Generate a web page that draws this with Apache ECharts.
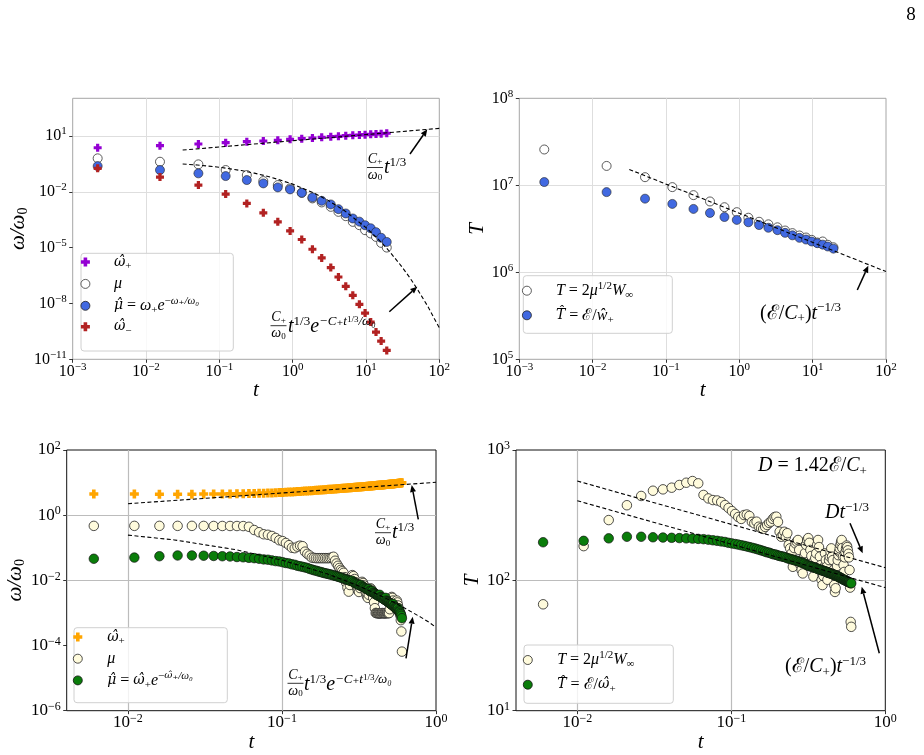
<!DOCTYPE html>
<html><head><meta charset="utf-8">
<script src="https://cdn.jsdelivr.net/npm/echarts@6/dist/echarts.min.js"></script>
<style>html,body{margin:0;padding:0;background:#fff}#c{width:924px;height:755px}</style>
</head><body><div id="c"></div>
<script>
// ---------------- DATA ----------------
// top row: time samples
const tTop = [0.00219,0.0155,0.0518,0.122,0.237,0.398,0.627,0.923,1.33,1.86,2.49,3.31,4.21,5.30,6.61,8.13,9.72,11.6,13.7,16.1,19.2];
// panel 1 (omega / omega0)
const p1OmegaPlus = [2.34,3.0,3.7,4.35,4.93,5.38,5.87,6.64,7.16,7.8,8.5,9.17,9.6,10.4,10.9,11.3,11.8,12.3,12.8,13.3,14.0];
const p1Mu = [0.63,0.413,0.299,0.148,0.0794,0.0378,0.023,0.0153,0.00885,0.00442,0.00269,0.00156,8.39e-4,4.92e-4,2.43e-4,1.61e-4,8.67e-5,5.75e-5,3.78e-5,1.8e-5,1.01e-5];
const p1MuHat = [0.242,0.148,0.098,0.0702,0.0428,0.0284,0.0173,0.0135,0.00885,0.005,0.00328,0.0021,0.00117,6.87e-4,3.7e-4,2.5e-4,1.6e-4,1.1e-4,6.8e-5,3.4e-5,2.03e-5];
const p1OmegaMinus = [0.182,0.0619,0.023,7.53e-3,2.38e-3,7.41e-4,2.43e-4,7.94e-5,2.74e-5,8.22e-6,2.79e-6,8.49e-7,2.65e-7,8.36e-8,2.74e-8,8.97e-9,3.05e-9,1.0e-9,2.89e-10,9.5e-11,2.99e-11];
const p1FitUpT = [0.0316,100];
const p1FitUpV = [1.75,25.7];
const p1FitLowT = [0.0316,0.05,0.1,0.2,0.3,0.5,1,2,3,5,10,15,20,30,40,50,70,85,100];
const p1FitLowV = [0.313,0.276,0.209,0.139,0.101,0.062,0.026,0.00824,0.00358,0.00102,1.2e-4,2.63e-5,7.7e-6,1.09e-6,2.3e-7,6.0e-8,6.8e-9,1.6e-9,5.0e-10];
// panel 2 (T)
const p2T = [2.58e7,1.67e7,1.24e7,9.53e6,7.71e6,6.52e6,5.6e6,4.91e6,4.24e6,3.81e6,3.56e6,3.29e6,3.02e6,2.82e6,2.65e6,2.51e6,2.36e6,2.2e6,2.26e6,2.07e6,1.94e6];
const p2That = [1.09e7,8.35e6,7.02e6,6.11e6,5.35e6,4.81e6,4.32e6,4.0e6,3.76e6,3.49e6,3.25e6,3.05e6,2.84e6,2.66e6,2.49e6,2.38e6,2.26e6,2.16e6,2.08e6,1.98e6,1.87e6];
const p2FitT = [0.0316,100];
const p2FitV = [1.52e7,1.02e6];
// bottom row: time samples
const tBot = [0.006,0.011,0.016,0.021,0.026,0.031,0.036,0.041,0.046,0.051,
0.056,0.061,0.066,0.071,0.076,0.081,0.086,0.091,0.096,0.101,
0.106,0.111,0.116,0.121,0.126,0.131,0.136,0.141,0.146,0.151,
0.156,0.161,0.166,0.171,0.176,0.181,0.186,0.191,0.196,0.201,
0.206,0.211,0.216,0.221,0.226,0.231,0.236,0.241,0.246,0.251,
0.256,0.261,0.266,0.271,0.276,0.281,0.286,0.291,0.296,0.301,
0.306,0.311,0.316,0.321,0.326,0.331,0.336,0.341,0.346,0.351,
0.356,0.361,0.366,0.371,0.376,0.381,0.386,0.391,0.396,0.401,
0.406,0.411,0.416,0.421,0.426,0.431,0.436,0.441,0.446,0.451,
0.456,0.461,0.466,0.471,0.476,0.481,0.486,0.491,0.496,0.501,
0.506,0.511,0.516,0.521,0.526,0.531,0.536,0.541,0.546,0.551,
0.556,0.561,0.566,0.571,0.576,0.581,0.586,0.591,0.596,0.601];
// panel 3 (omega / omega0)
const p3OmegaPlus = [4.45,4.45,4.40,4.40,4.40,4.45,4.45,4.48,4.50,4.53,
4.56,4.60,4.63,4.67,4.71,4.76,4.80,4.86,4.93,5.00,
5.06,5.12,5.18,5.24,5.30,5.36,5.42,5.48,5.54,5.60,
5.66,5.72,5.78,5.84,5.90,5.96,6.02,6.08,6.14,6.20,
6.25,6.30,6.35,6.40,6.45,6.50,6.55,6.60,6.65,6.70,
6.75,6.80,6.85,6.90,6.95,7.00,7.05,7.10,7.15,7.20,
7.24,7.29,7.33,7.38,7.42,7.47,7.51,7.56,7.60,7.65,
7.69,7.74,7.78,7.83,7.87,7.92,7.96,8.01,8.05,8.10,
8.14,8.18,8.22,8.26,8.30,8.34,8.38,8.42,8.46,8.50,
8.54,8.58,8.62,8.66,8.70,8.74,8.78,8.82,8.86,8.90,
8.94,8.99,9.03,9.08,9.12,9.17,9.21,9.26,9.30,9.35,
9.39,9.44,9.48,9.53,9.57,9.62,9.66,9.71,9.75,9.80];
const p3Mu = [0.47,0.47,0.47,0.47,0.47,0.468,0.466,0.466,0.466,0.465,0.463,
0.44,0.35,0.30,0.26,0.25,0.23,0.20,0.17,0.16,
0.14,0.12,0.10,0.097,0.108,0.116,0.112,0.076,0.065,0.058,
0.050,0.049,0.048,0.048,0.048,0.048,0.048,0.048,0.048,0.048,0.049,0.050,0.053,
0.040,0.033,0.028,0.024,0.021,0.019,0.017,
0.0125,0.0085,0.006,0.0045,0.0072,0.0105,0.0145,0.0135,0.011,0.0088,
0.0065,0.0050,0.0044,0.0058,0.0078,0.0090,0.0083,0.0070,0.0056,0.0042,
0.0033,0.0029,0.0036,0.0047,0.0057,0.0052,0.0040,0.0029,0.0021,0.0014,
0.00100,0.00099,0.00098,0.00098,0.00097,0.00097,0.00098,0.00098,0.00099,0.00099,0.00098,0.00098,0.00097,0.00098,0.00099,0.0010,0.00099,0.00098,0.00099,
0.0013,0.0019,0.0026,0.0031,0.0029,0.0024,0.0020,0.0017,0.0015,0.0017,0.0021,0.0024,0.0021,0.0017,0.0014,0.0012,0.0010,0.00085,0.00060,0.00027,0.000065];
const p3MuHat = [0.046,0.050,0.055,0.058,0.058,0.057,0.056,0.055,0.054,0.052,
0.051,0.049,0.048,0.046,0.044,0.043,0.041,0.039,0.038,0.036,
0.034,0.033,0.031,0.030,0.028,0.027,0.026,0.025,0.024,0.0225,
0.0215,0.0205,0.0198,0.0190,0.0183,0.0176,0.0170,0.0165,0.0160,0.0156,
0.0152,0.0147,0.0142,0.0138,0.0134,0.0130,0.0126,0.0122,0.0118,0.0114,
0.0110,0.0107,0.0104,0.0101,0.0098,0.0095,0.0097,0.0089,0.0084,0.0081,
0.0078,0.0075,0.0072,0.0069,0.0072,0.0065,0.0063,0.0061,0.0058,0.0056,
0.0054,0.0052,0.0054,0.0048,0.0047,0.0045,0.0047,0.0042,0.0041,0.0039,
0.0038,0.0036,0.0035,0.0034,0.0033,0.0036,0.0031,0.0030,0.0029,0.0028,
0.0027,0.0026,0.0025,0.0029,0.0024,0.0023,0.0022,0.0021,0.0021,0.0020,
0.0019,0.0019,0.0018,0.0017,0.0019,0.0016,0.0016,0.0015,0.0014,0.0014,
0.0013,0.0013,0.0014,0.0012,0.0011,0.0011,0.0010,0.00092,0.00082,0.00069];
const p3FitUpT = [0.01,1];
const p3FitUpV = [2.25,10.2];
const p3FitLowT = [0.01,0.02,0.05,0.1,0.2,0.3,0.4,0.5,0.6,0.7,0.8,0.9,1];
const p3FitLowV = [0.244,0.174,0.0875,0.0417,0.0154,0.00737,0.00411,0.00246,0.00158,0.00105,7.3e-4,5.2e-4,3.6e-4];
// panel 4 (T)
const p4T = [65.5,183,290,377,444,487,499,514,539,561,578,555,
452,425,413,410,399,378,359,340,323,306,296,
317,320,312,281,274,282,258,
252,248,257,266,276,282,296,306,308,281,
236,216,223,236,216,230,187,176,161,127,
177,192,198,204,171,131,120,113,152,162,
187,204,211,194,171,154,136,107,127,148,
161,187,204,180,152,131,101,92,108,127,
161,143,127,101,114,143,152,166,176,152,
143,120,92,81.5,87,110,129,143,156,166,
176,187,197,204,177,152,131,116,150,165,
175,185,180,170,160,150,120,88,48,44];
const p4That = [196,201,210,216,216,214,213,212,211,210,
209,208,207,205,203,201,199,197,194,192,
190,188,186,184,182,180,178,176,174,172,
170,168,166,164,163,161,159,158,157,155,
154,153,152,151,150,148,147,146,145,144,
143,142,141,140,139,138,137,136,135,134,
132,131,130,129,128,128,127,126,125,125,
124,123,122,122,121,120,120,119,118,118,
117,117,116,115,115,114,114,113,112,112,
111,111,110,110,109,108,108,107,107,106,
105,105,104,103,103,102,101,101,100,100,
99,99,98,98,97,97,96,96,95,95];
const p4FitUpT = [0.01,1];
const p4FitUpV = [578,125];
const p4FitLowT = [0.01,1];
const p4FitLowV = [408,88];
// tick values
const ticksTopX = [1e-3,1e-2,1e-1,1,10,100];
const ticksP1Y = [1e-11,1e-8,1e-5,1e-2,10];
const ticksP2Y = [1e5,1e6,1e7,1e8];
const ticksBotX = [0.01,0.1,1];
const ticksP3Y = [1e-6,1e-4,1e-2,1,100];
const ticksP4Y = [10,100,1000];

// ---------------- STYLE / BUILD ----------------
const F = "'Liberation Serif','DejaVu Serif',serif";
const FH = "'DejaVu Serif','Liberation Serif',serif";
const C = '#000';
function tickRich(sz){ return {
  b:{fontFamily:F,fontSize:sz,lineHeight:20,color:C},
  s:{fontFamily:F,fontSize:Math.round(sz*0.7),lineHeight:8,verticalAlign:'top',color:C}}; }
function lbl(v){ const e = Math.round(Math.log10(v)); return '{b|10}{s|' + (e<0 ? '\u2212'+(-e) : e) + '}'; }
const NR = {
  i:{fontFamily:F,fontStyle:'italic',fontSize:21,lineHeight:24,color:C},
  sb:{fontFamily:F,fontSize:14,lineHeight:12,verticalAlign:'bottom',color:C}};
function axis(gi, min, max, vals, sz, name, gap, isY){
  return {type:'log', logBase:10, gridIndex:gi, min, max,
    name, nameLocation:'middle', nameGap:gap, nameTextStyle:{rich:NR},
    axisLine:{show:false}, splitLine:{show:false}, minorTick:{show:false},
    axisTick:{show:true, customValues:vals, length:3.5, lineStyle:{color:'#000',width:0.8}},
    axisLabel:{customValues:vals, margin:isY?6:2, formatter:lbl, rich:tickRich(sz)}};
}
const CROSS = 'path://M-0.4,-1H0.4V-0.4H1V0.4H0.4V1H-0.4V0.4H-1V-0.4H-0.4Z';
function sc(name, gi, xs, ys, symbol, size, color, border, bw){
  return {type:'scatter', name, xAxisIndex:gi, yAxisIndex:gi, data:xs.map((x,i)=>[x,ys[i]]),
    symbol, symbolSize:size, itemStyle:{color, borderColor:border, borderWidth:bw, opacity:1},
    z:2, silent:true, animation:false};
}
function fit(gi, xs, ys, ml){
  const s = {type:'line', xAxisIndex:gi, yAxisIndex:gi, data:xs.map((x,i)=>[x,ys[i]]),
    symbol:'none', lineStyle:{color:'#000', width:1.1, type:[4,2.5]}, z:4, silent:true, animation:false};
  if (ml) s.markLine = ml;
  return s;
}
function grid(xv, yv, color, w){
  return {silent:true, symbol:['none','none'], z:1, animation:false, label:{show:false},
    lineStyle:{color, width:w, type:'solid'}, emphasis:{disabled:true},
    data:[...xv.map(v=>({xAxis:v})), ...yv.map(v=>({yAxis:v}))]};
}
const LR = {
  i:{fontFamily:F,fontStyle:'italic',fontSize:16,lineHeight:20,color:C},
  h:{fontFamily:FH,fontStyle:'italic',fontSize:14,lineHeight:20,color:C},
  r:{fontFamily:F,fontSize:16,lineHeight:20,color:C},
  sp:{fontFamily:F,fontSize:11,lineHeight:8,verticalAlign:'top',color:C},
  spi:{fontFamily:F,fontStyle:'italic',fontSize:11,lineHeight:8,verticalAlign:'top',color:C},
  sph:{fontFamily:FH,fontStyle:'italic',fontSize:10,lineHeight:8,verticalAlign:'top',color:C},
  sb:{fontFamily:F,fontSize:11,lineHeight:12,verticalAlign:'bottom',color:C}};
const LEG = {
  p1w:'{h|\u03c9\u0302}{sb|+}', p1mu:'{i|\u03bc}', p1muh:'{h|\u03bc\u0302}{r| = }{i|\u03c9}{sb|+}{i|e}{sp|\u2212}{spi|\u03c9\u208a/\u03c9\u2080}', p1wm:'{h|\u03c9\u0302}{sb|\u2212}',
  p2T:'{i|T}{r| = 2}{i|\u03bc}{sp|1/2}{i|W}{sb|\u221e}', p2Th:'{h|T\u0302}{r| = \u2130/}{i|\u0175}{sb|+}',
  p3w:'{h|\u03c9\u0302}{sb|+}', p3mu:'{i|\u03bc}', p3muh:'{h|\u03bc\u0302}{r| = }{h|\u03c9\u0302}{sb|+}{i|e}{sp|\u2212}{sph|\u03c9\u0302}{spi|\u208a/\u03c9\u2080}',
  p4T:'{i|T}{r| = 2}{i|\u03bc}{sp|1/2}{i|W}{sb|\u221e}', p4Th:'{h|T\u0302}{r| = \u2130/}{h|\u03c9\u0302}{sb|+}'};
function leg(items, left, top, gap, iw){
  return {data:items.map(n=>({name:n, itemStyle:{borderWidth:(n==='p1w'||n==='p1wm'||n==='p3w')?0:0.8}})),
    orient:'vertical', left, top, itemGap:gap, itemWidth:iw, itemHeight:9, padding:0,
    selectedMode:false, formatter:n=>LEG[n], textStyle:{rich:LR, color:C}, z:20};
}
// annotation text styles
const AR = {
  i:{fontFamily:F,fontStyle:'italic',fontSize:20,lineHeight:24,color:C},
  r:{fontFamily:F,fontSize:20,lineHeight:24,color:C},
  sp:{fontFamily:F,fontSize:13,lineHeight:10,verticalAlign:'top',color:C},
  spi:{fontFamily:F,fontStyle:'italic',fontSize:13,lineHeight:10,verticalAlign:'top',color:C},
  sp2:{fontFamily:F,fontSize:9,lineHeight:4,verticalAlign:'top',color:C},
  sb:{fontFamily:F,fontSize:13,lineHeight:12,verticalAlign:'bottom',color:C},
  fi:{fontFamily:F,fontStyle:'italic',fontSize:14,lineHeight:14,color:C},
  fsb:{fontFamily:F,fontSize:9,lineHeight:6,verticalAlign:'bottom',color:C}};
function txt(x, y, s, align){ return {type:'text', x, y, z:50, style:{text:s, rich:AR, align:align||'left', verticalAlign:'middle', fill:C}}; }
function frac(cx, by){
  return [
    {type:'text', x:cx, y:by-1, z:50, style:{text:'{fi|C}{fsb|+}', rich:AR, align:'center', verticalAlign:'bottom', fill:C}},
    {type:'line', z:50, shape:{x1:cx-8, y1:by, x2:cx+8, y2:by}, style:{stroke:C, lineWidth:0.8}},
    {type:'text', x:cx, y:by+1, z:50, style:{text:'{fi|\u03c9}{fsb|0}', rich:AR, align:'center', verticalAlign:'top', fill:C}}];
}
function arrow(x1,y1,x2,y2){
  const a = Math.atan2(y2-y1, x2-x1), L = 7, W = 3;
  const bx = x2 - L*Math.cos(a), by = y2 - L*Math.sin(a);
  const px = -Math.sin(a)*W, py = Math.cos(a)*W;
  return [{type:'line', z:50, shape:{x1, y1, x2:bx, y2:by}, style:{stroke:C, lineWidth:1.5}},
          {type:'polygon', z:50, shape:{points:[[x2,y2],[bx+px,by+py],[bx-px,by-py]]}, style:{fill:C}}];
}
function frame(x,y,w,h){ return {type:'rect', z:10, shape:{x,y,width:w,height:h,r:3}, style:{fill:'rgba(255,255,255,0.8)', stroke:'#d0d0d0', lineWidth:1}}; }

const GT = '#dedede', GB = '#bcbcbc';
const BLUE = '#4169e1', PURP = '#9400d3', RED = '#b22222', ORG = '#ffa500', CREAM = '#fffbdc', GREEN = '#0a7d0a';

const option = {
  animation:false,
  backgroundColor:'#fff',
  textStyle:{fontFamily:F},
  grid:[
    {left:72.7, top:98.3, width:366.6, height:261, show:true, borderColor:'#a6a6a6', borderWidth:1},
    {left:519.3, top:98.3, width:366.7, height:261, show:true, borderColor:'#a6a6a6', borderWidth:1},
    {left:66.7, top:450, width:369.3, height:260.7, show:true, borderColor:'#111', borderWidth:1},
    {left:516, top:450, width:369.3, height:260.7, show:true, borderColor:'#111', borderWidth:1}
  ],
  xAxis:[
    axis(0, 1e-3, 100, ticksTopX, 16, '{i|t}', 19, false),
    axis(1, 1e-3, 100, ticksTopX, 16, '{i|t}', 19, false),
    axis(2, 0.004, 1, ticksBotX, 17, '{i|t}', 19, false),
    axis(3, 0.004, 1, ticksBotX, 17, '{i|t}', 19, false)
  ],
  yAxis:[
    axis(0, 1e-11, 1060, ticksP1Y, 16, '{i|\u03c9/\u03c9}{sb|0}', 40, true),
    axis(1, 1e5, 1e8, ticksP2Y, 16, '{i|T}', 27, true),
    axis(2, 1e-6, 100, ticksP3Y, 17, '{i|\u03c9/\u03c9}{sb|0}', 36, true),
    axis(3, 10, 1000, ticksP4Y, 17, '{i|T}', 27, true)
  ],
  legend:[
    leg(['p1w','p1mu','p1muh','p1wm'], 80.5, 255, 3.9, 47),
    leg(['p2T','p2Th'], 522, 280.7, 6.6, 48),
    leg(['p3w','p3mu','p3muh'], 72.9, 630, 3.7, 48.8),
    leg(['p4T','p4Th'], 522.9, 650, 6.7, 48.8)
  ],
  series:[
    sc('p1w', 0, tTop, p1OmegaPlus, CROSS, 8, PURP, PURP, 0),
    sc('p1mu', 0, tTop, p1Mu, 'circle', 9, '#fff', '#333', 0.8),
    sc('p1muh', 0, tTop, p1MuHat, 'circle', 9, BLUE, '#222', 0.6),
    sc('p1wm', 0, tTop, p1OmegaMinus, CROSS, 8, RED, RED, 0),
    fit(0, p1FitUpT, p1FitUpV, grid([1e-2,1e-1,1,10], [1e-8,1e-5,1e-2,10], GT, 1)),
    fit(0, p1FitLowT, p1FitLowV),
    sc('p2T', 1, tTop, p2T, 'circle', 9, '#fff', '#333', 0.8),
    sc('p2Th', 1, tTop, p2That, 'circle', 9, BLUE, '#222', 0.6),
    fit(1, p2FitT, p2FitV, grid([1e-2,1e-1,1,10], [1e6,1e7], GT, 1)),
    sc('p3w', 2, tBot, p3OmegaPlus, CROSS, 9, ORG, ORG, 0),
    sc('p3mu', 2, tBot, p3Mu, 'circle', 9.5, CREAM, '#222', 0.8),
    sc('p3muh', 2, tBot, p3MuHat, 'circle', 9.5, GREEN, '#111', 0.7),
    fit(2, p3FitUpT, p3FitUpV, grid([0.01,0.1], [1e-4,1e-2,1], GB, 1.2)),
    fit(2, p3FitLowT, p3FitLowV),
    sc('p4T', 3, tBot, p4T, 'circle', 9.5, CREAM, '#222', 0.8),
    sc('p4Th', 3, tBot, p4That, 'circle', 9.5, GREEN, '#111', 0.7),
    fit(3, p4FitUpT, p4FitUpV, grid([0.01,0.1], [100], GB, 1.2)),
    fit(3, p4FitLowT, p4FitLowV)
  ],
  graphic:{elements:[
    frame(81,253.3,152.3,97.7), frame(523.3,275.7,149,57.6), frame(74,627.7,153.3,75), frame(524,645,149.3,58.3),
    {type:'text', x:911, y:15, z:50, style:{text:'8', font:"19px 'Liberation Serif',serif", fill:C, align:'center', verticalAlign:'middle'}},
    ...frac(375,167.5), txt(384,168,'{i|t}{sp|1/3}'), ...arrow(410,154,427.3,129.3),
    ...frac(278.5,325.7), txt(288,327,'{i|t}{sp|1/3}{i|e}{spi|\u2212C\u208at}{sp2|1/3}{spi|/\u03c9\u2080}'), ...arrow(389.3,311.7,417.3,286.7),
    txt(760,313.3,'{r|(\u2130/}{i|C}{sb|+}{r|)}{i|t}{sp|\u22121/3}'), ...arrow(857.3,290,868.3,265.7),
    ...frac(383,532.7), txt(392,533,'{i|t}{sp|1/3}'), ...arrow(418.3,519.3,411.7,485),
    ...frac(295.5,683.3), txt(304,685,'{i|t}{sp|1/3}{i|e}{spi|\u2212C\u208at}{sp2|1/3}{spi|/\u03c9\u2080}'), ...arrow(406,658.3,412.7,616.7),
    txt(758,466,'{i|D}{r| = 1.42\u2130/}{i|C}{sb|+}'),
    txt(825,513,'{i|Dt}{sp|\u22121/3}'), ...arrow(850,523.3,862.7,553.3),
    txt(785,667,'{r|(\u2130/}{i|C}{sb|+}{r|)}{i|t}{sp|\u22121/3}'), ...arrow(879.3,653.3,861.7,586.7)
  ]}
};
const chart = echarts.init(document.getElementById('c'), null, {renderer:'canvas'});
chart.setOption(option);
</script>
</body></html>
